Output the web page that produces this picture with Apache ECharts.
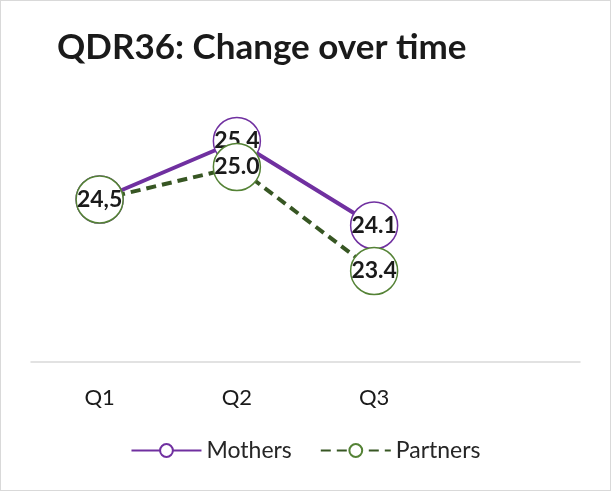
<!DOCTYPE html>
<html>
<head>
<meta charset="utf-8">
<style>
  html, body { margin: 0; padding: 0; background: #fff; }
  #wrap { width: 611px; height: 491px; box-sizing: border-box; border: 1px solid #d9d9d9; }
  #main { width: 609px; height: 489px; }
</style>
<script src="https://cdn.jsdelivr.net/npm/echarts@6/dist/echarts.min.js"></script>
</head>
<body>
<div id="wrap"><div id="main"></div></div>
<script>
// 数据
var categories = ['Q1', 'Q2', 'Q3', '']
var mothers = [24.5, 25.4, 24.1]
var partners = [24.5, 25.0, 23.4]
var mothersLabels = ['24,5', '25.4', '24.1']
var partnersLabels = ['24,5', '25.0', '23.4']

var font = 'Lato, "Open Sans", sans-serif'

var myChart = echarts.init(document.getElementById('main'))

var option = {
  animation: false,
  title: {
    text: 'QDR36: Change over time',
    left: 51,
    top: 24,
    textStyle: { fontFamily: font, fontSize: 35, fontWeight: 'bold', color: '#1a1a1a' }
  },
  legend: {
    bottom: 23,
    left: 'center',
    itemWidth: 70,
    itemHeight: 16,
    itemGap: 28,
    textStyle: { fontFamily: font, fontSize: 23, color: '#262626' },
    data: ['Mothers', 'Partners']
  },
  grid: { left: 30, right: 30, top: 101, bottom: 128 },
  xAxis: {
    type: 'category',
    data: categories,
    boundaryGap: true,
    axisLine: { lineStyle: { color: '#d9d9d9', width: 1.5 } },
    axisTick: { show: false },
    axisLabel: { fontFamily: font, fontSize: 22, color: '#1a1a1a', margin: 25 }
  },
  yAxis: {
    type: 'value',
    min: 22,
    max: 26,
    show: false,
    splitLine: { show: false }
  },
  series: [
    {
      name: 'Mothers',
      type: 'line',
      data: mothers,
      symbol: 'circle',
      symbolSize: 47,
      lineStyle: { color: '#7030a0', width: 4 },
      itemStyle: { color: '#fff', borderColor: '#7030a0', borderWidth: 1.5 },
      label: {
        show: true,
        position: 'inside',
        fontFamily: font,
        fontSize: 23,
        fontWeight: 'bold',
        color: '#1a1a1a',
        formatter: function (p) { return mothersLabels[p.dataIndex] }
      },
      z: 2
    },
    {
      name: 'Partners',
      type: 'line',
      data: partners,
      symbol: 'circle',
      symbolSize: 47,
      lineStyle: { color: '#375623', width: 4, type: [10, 6] },
      itemStyle: { color: '#fff', borderColor: '#548235', borderWidth: 1.5 },
      label: {
        show: true,
        position: 'inside',
        fontFamily: font,
        fontSize: 23,
        fontWeight: 'bold',
        color: '#1a1a1a',
        formatter: function (p) { return partnersLabels[p.dataIndex] }
      },
      z: 3
    }
  ]
}

myChart.setOption(option)
</script>
</body>
</html>
